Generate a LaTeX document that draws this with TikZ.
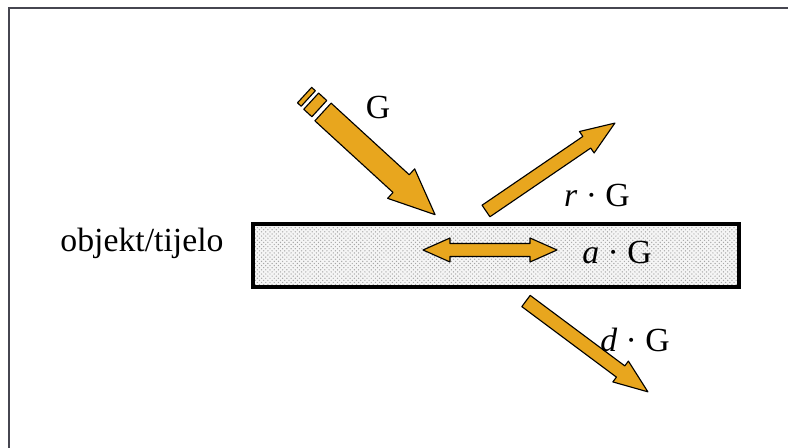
\documentclass[tikz,border=0pt]{standalone}
\usepackage{fontspec}
\setmainfont{Liberation Serif}
\usepackage{tikz}
\usetikzlibrary{patterns}
\definecolor{sun}{RGB}{232,166,30}
\definecolor{frame}{RGB}{70,70,80}

% block arrow: tail point, angle, length, shaft half width, head half width, head length
\newcommand{\beamarrow}[6]{%
  \begin{scope}[shift={#1},rotate=#2]
    \draw[beam] (0,-#4) -- ({#3-#6},-#4) -- ({#3-#6},-#5) -- (#3,0)
      -- ({#3-#6},#5) -- ({#3-#6},#4) -- (0,#4) -- cycle;
  \end{scope}}

\begin{document}
\begin{tikzpicture}[x=0.025cm,y=0.025cm,
  beam/.style={fill=sun,draw=black,line width=0.8pt,line join=round},
  lbl/.style={font=\fontsize{24}{28}\selectfont,inner sep=0pt}]
\useasboundingbox (0,0) rectangle (788,447);
% frame
\draw[frame,line width=1.2pt] (9,-10) -- (9,439) -- (800,439);
% object
\draw[line width=2.2pt,pattern=crosshatch dots,pattern color=gray!70,
  preaction={fill=gray!8}] (253,160) rectangle (739,223);
\node[lbl] (obj) at (142,204) {objekt/tijelo};
% incoming G with broken tail
\beamarrow{(323,335)}{-42.5}{152}{12}{20}{46}
\begin{scope}[shift={(323,335)},rotate=-42.5]
  \draw[beam] (-16,-11) rectangle (-5,11);
  \draw[beam] (-25,-10.5) rectangle (-20,10.5);
\end{scope}
\node[lbl] (g) at (378,340) {G};
% reflected
\beamarrow{(486,236)}{34.3}{156}{7}{13}{34}
\node[lbl] (r) at (597,252) {\textit{r} · G};
% absorbed
\draw[beam] (423,197) -- (450,209) -- (450,203.5) -- (530,203.5) -- (530,209)
  -- (557,197) -- (530,185) -- (530,190.5) -- (450,190.5) -- (450,185) -- cycle;
\node[lbl] (a) at (617,194) {\textit{a} · G};
% transmitted
\beamarrow{(526,146)}{-36.7}{152}{7}{13}{34}
\node[lbl] (d) at (635,107) {\textit{d} · G};
\end{tikzpicture}
\end{document}
